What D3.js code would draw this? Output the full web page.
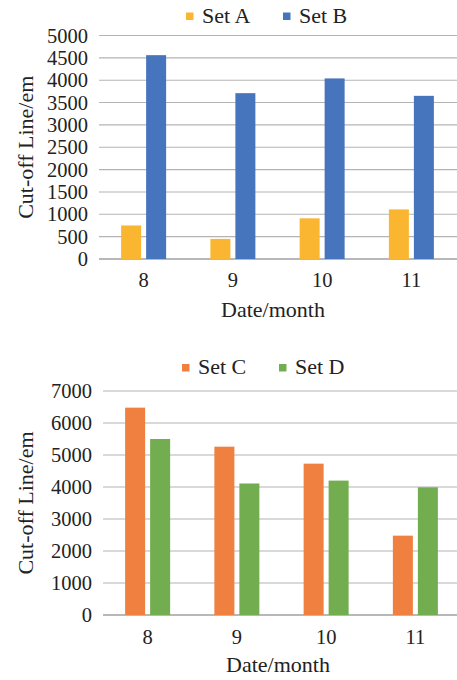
<!DOCTYPE html>
<html>
<head>
<meta charset="utf-8">
<script src="https://cdn.jsdelivr.net/npm/d3@7/dist/d3.min.js"></script>
<style>
  html, body { margin: 0; padding: 0; background: #ffffff; }
  svg { display: block; }
  svg text { font-family: "Liberation Serif", "Times New Roman", Times, serif; }
</style>
</head>
<body>
<svg id="chart" width="457" height="680"></svg>
<script>
// ---- data ----
const categories = ["8", "9", "10", "11"];

const seriesTop = ["Set A", "Set B"];
const setA = [750, 450, 910, 1110];
const setB = [4560, 3710, 4040, 3650];
const ticksTop = [0, 500, 1000, 1500, 2000, 2500, 3000, 3500, 4000, 4500, 5000];

const seriesBottom = ["Set C", "Set D"];
const setC = [6480, 5260, 4730, 2480];
const setD = [5500, 4110, 4200, 3990];
const ticksBottom = [0, 1000, 2000, 3000, 4000, 5000, 6000, 7000];

const xTitle = "Date/month";
const yTitle = "Cut-off Line/em";

const FONT = "Liberation Serif, Times New Roman, Times, serif";
const svg = d3.select("#chart");

function drawPanel(cfg) {
  const g = svg.append("g").attr("font-family", FONT);
  const x0 = d3.scaleBand().domain(categories).range([cfg.left, cfg.right]).padding(0);
  const groupW = 45;
  const x1 = d3.scaleBand().domain(cfg.series).range([0, groupW]).paddingInner(0.2).paddingOuter(0);
  const y = d3.scaleLinear().domain([0, cfg.max]).range([cfg.bottom, cfg.top]);

  // gridlines
  g.selectAll("line.grid").data(cfg.ticks).enter().append("line")
    .attr("x1", cfg.left).attr("x2", cfg.right + 4)
    .attr("y1", d => y(d)).attr("y2", d => y(d))
    .attr("stroke", d => d === 0 ? "#a0a0a0" : "#b4b4b4")
    .attr("stroke-width", d => d === 0 ? 1.4 : 1.1);

  // y tick labels
  g.selectAll("text.yt").data(cfg.ticks).enter().append("text")
    .attr("font-family", FONT)
    .attr("x", cfg.left - 11).attr("y", d => y(d) + 7)
    .attr("text-anchor", "end").attr("font-size", 20.5).attr("fill", "#222")
    .text(d => d);

  // bars
  const data = categories.map((c, i) => cfg.series.map((s, j) => ({ c, s, v: cfg.values[j][i] })));
  const off = (x0.bandwidth() - groupW) / 2;
  g.selectAll("g.grp").data(data).enter().append("g")
    .attr("transform", d => `translate(${x0(d[0].c) + off},0)`)
    .selectAll("rect").data(d => d).enter().append("rect")
    .attr("x", d => x1(d.s)).attr("width", x1.bandwidth())
    .attr("y", d => y(d.v)).attr("height", d => cfg.bottom - y(d.v))
    .attr("fill", d => cfg.colors[cfg.series.indexOf(d.s)]);

  // x tick labels
  g.selectAll("text.xt").data(categories).enter().append("text")
    .attr("font-family", FONT)
    .attr("x", d => x0(d) + x0.bandwidth() / 2).attr("y", cfg.xTickY)
    .attr("text-anchor", "middle").attr("font-size", 20.5).attr("fill", "#222")
    .text(d => d);

  // x title
  g.append("text").attr("font-family", FONT)
    .attr("x", cfg.xTitleX).attr("y", cfg.xTitleY)
    .attr("text-anchor", "middle").attr("font-size", 22).attr("fill", "#222")
    .text(xTitle);

  // y title
  g.append("text").attr("font-family", FONT)
    .attr("transform", `translate(33,${(cfg.top + cfg.bottom) / 2}) rotate(-90)`)
    .attr("text-anchor", "middle").attr("font-size", 22).attr("fill", "#222")
    .text(yTitle);

  // legend
  cfg.series.forEach((s, j) => {
    const lx = cfg.legendX[j];
    g.append("rect").attr("x", lx).attr("y", cfg.legendY - 10).attr("width", 7.5).attr("height", 7.5)
      .attr("fill", cfg.colors[j]);
    g.append("text").attr("font-family", FONT)
      .attr("x", lx + 16).attr("y", cfg.legendY)
      .attr("font-size", 22).attr("fill", "#222").text(s);
  });
}

drawPanel({
  series: seriesTop, values: [setA, setB], colors: ["#FBB631", "#4775BD"],
  left: 99, right: 456, top: 35.5, bottom: 259, max: 5000, ticks: ticksTop,
  xTickY: 287, xTitleX: 273, xTitleY: 317, legendX: [186, 283], legendY: 22.5
});

drawPanel({
  series: seriesBottom, values: [setC, setD], colors: ["#F0803F", "#72AE4F"],
  left: 103, right: 460, top: 391, bottom: 615, max: 7000, ticks: ticksBottom,
  xTickY: 644, xTitleX: 278, xTitleY: 672, legendX: [182, 279], legendY: 374
});
</script>
</body>
</html>
